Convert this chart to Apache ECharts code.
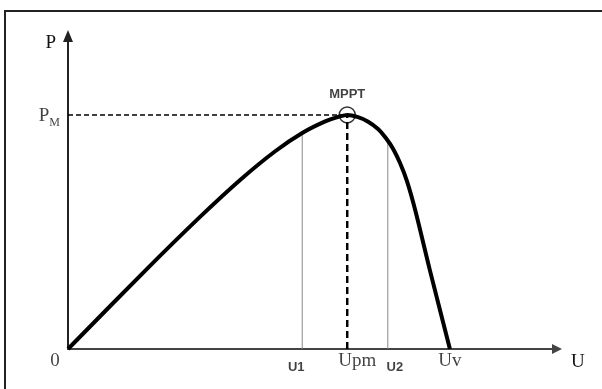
<!DOCTYPE html>
<html>
<head>
<meta charset="utf-8">
<script src="https://cdn.jsdelivr.net/npm/echarts@6/dist/echarts.min.js"></script>
<style>
  html, body { margin: 0; padding: 0; background: #fff; }
  #chart { width: 602px; height: 389px; }
</style>
</head>
<body>
<div id="chart"></div>
<script>
// P-U curve of a PV panel (arbitrary units, axis 0..100)
const curveU = [0, 15.7, 27.0, 35.2, 42.3, 47.9, 52.6, 55.6, 57.1, 59.3, 61.3, 63.4, 65.0, 66.5, 67.9, 69.3, 71.0, 74.0, 78.1];
const curveP = [0, 24.9, 42.2, 54.0, 63.1, 69.0, 72.7, 74.3, 74.8, 74.1, 72.7, 70.3, 67.4, 63.9, 59.4, 53.7, 44.4, 25.2, 0];

// marked voltages and the max power
const U1 = 47.9, UPM = 57.1, U2 = 65.4, UV = 78.1;
const PM = 74.8;
const P_U1 = 69.0, P_U2 = 66.6;

// labels under the U axis
const tickNames = ['0', 'U1', 'Upm', 'U2', 'Uv'];
const tickValues = [0, U1, UPM, U2, UV];

const serif = 'Liberation Serif';
const sans = 'Liberation Sans';
const textColor = '#111';

// style of each tick label
const tickStyle = [
  { fontFamily: serif, fontSize: 19, fontWeight: 'normal', distance: 3, offset: [-13, 0] },
  { fontFamily: sans, fontSize: 13, fontWeight: 'bold', distance: 12, offset: [-6, 0] },
  { fontFamily: serif, fontSize: 19, fontWeight: 'normal', distance: 3, offset: [10, 0] },
  { fontFamily: sans, fontSize: 13, fontWeight: 'bold', distance: 12, offset: [7, 0] },
  { fontFamily: serif, fontSize: 19, fontWeight: 'normal', distance: 3, offset: [0, 0] }
];

const myChart = echarts.init(document.getElementById('chart'));

const option = {
  animation: false,
  backgroundColor: '#fff',
  grid: { left: 68, right: 45, top: 36, bottom: 40 },
  graphic: [{
    // frame (left + top edge)
    type: 'polyline',
    shape: { points: [[5, 389], [5, 11], [602, 11]] },
    style: { stroke: '#222', lineWidth: 2, fill: null },
    silent: true
  }],
  xAxis: {
    type: 'value', min: 0, max: 100,
    name: 'U', nameLocation: 'end', nameGap: 14,
    nameTextStyle: { fontFamily: serif, fontSize: 19, color: textColor, verticalAlign: 'top', padding: [4, 0, 0, 0] },
    axisLine: { show: true, symbol: ['none', 'triangle'], symbolSize: [10, 10], lineStyle: { color: '#444', width: 2 } },
    axisTick: { show: false }, axisLabel: { show: false }, splitLine: { show: false }
  },
  yAxis: {
    type: 'value', min: 0, max: 100,
    name: 'P', nameLocation: 'end', nameGap: -7,
    nameTextStyle: { fontFamily: serif, fontSize: 19, color: textColor, align: 'right', verticalAlign: 'middle', padding: [0, 12, 0, 0] },
    axisLine: { show: true, symbol: ['none', 'triangle'], symbolSize: [10, 12], lineStyle: { color: '#222', width: 2 } },
    axisTick: { show: false }, axisLabel: { show: false }, splitLine: { show: false }
  },
  series: [
    {
      type: 'line', data: [[U1, 0], [U1, P_U1]], symbol: 'none', silent: true,
      lineStyle: { color: '#888', width: 1 }
    },
    {
      type: 'line', data: [[U2, 0], [U2, P_U2]], symbol: 'none', silent: true,
      lineStyle: { color: '#888', width: 1 }
    },
    {
      type: 'line', data: [[0, PM], [UPM, PM]], symbol: 'none', silent: true,
      lineStyle: { color: '#000', width: 1.5, type: [5, 3] }
    },
    {
      type: 'line', data: [[UPM, 0], [UPM, PM]], symbol: 'none', silent: true,
      lineStyle: { color: '#000', width: 2.5, type: [7, 4] }
    },
    {
      // P(U) curve
      type: 'line', smooth: 0.3, symbol: 'none', silent: true,
      data: curveU.map((u, i) => [u, curveP[i]]),
      lineStyle: { color: '#000', width: 4 }
    },
    {
      // MPPT point
      type: 'scatter', symbol: 'circle', symbolSize: 16, silent: true, z: 5,
      data: [[UPM, PM]],
      itemStyle: { color: 'rgba(0,0,0,0)', borderColor: '#000', borderWidth: 1.5 },
      label: {
        show: true, position: 'top', distance: 5, formatter: 'MPPT',
        fontFamily: sans, fontSize: 13, fontWeight: 'bold', color: textColor
      }
    },
    {
      // PM label on the P axis
      type: 'scatter', symbolSize: 0, silent: true, clip: false,
      data: [[0, PM]],
      label: {
        show: true, position: 'left', distance: 8, offset: [0, 3], formatter: '{a|P}{b|M}',
        rich: {
          a: { fontFamily: serif, fontSize: 19, color: textColor, verticalAlign: 'top' },
          b: { fontFamily: serif, fontSize: 12, color: textColor, verticalAlign: 'top', padding: [10, 0, 0, 0] }
        }
      }
    },
    {
      // labels along the U axis
      type: 'scatter', symbolSize: 0, silent: true, clip: false,
      data: tickValues.map((v, i) => ({
        value: [v, 0],
        name: tickNames[i],
        label: {
          show: true, position: 'bottom', formatter: '{b}',
          distance: tickStyle[i].distance, offset: tickStyle[i].offset,
          fontFamily: tickStyle[i].fontFamily, fontSize: tickStyle[i].fontSize,
          fontWeight: tickStyle[i].fontWeight, color: textColor
        }
      }))
    }
  ]
};

myChart.setOption(option);
</script>
</body>
</html>
